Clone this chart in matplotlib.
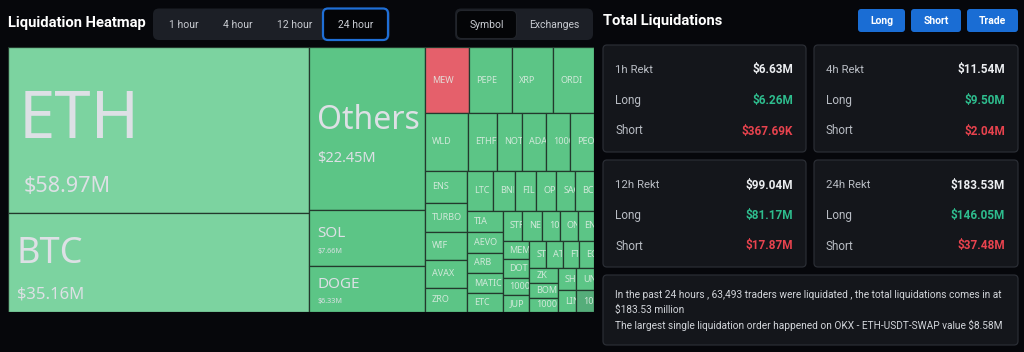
import matplotlib
matplotlib.use("Agg")
import matplotlib.pyplot as plt
from matplotlib.patches import Rectangle, FancyBboxPatch
from matplotlib.transforms import Bbox, TransformedBbox

# ---- data ----
symbols = ["ETH", "BTC", "Others", "SOL", "DOGE",
           "MEW", "PEPE", "XRP", "ORDI",
           "WLD", "ETHFI", "NOT", "ADA", "1000BONK", "PEOPLE",
           "ENS", "TURBO", "WIF", "AVAX", "ZRO",
           "LTC", "BNB", "FIL", "OP", "SAGA", "BCH",
           "TIA", "AEVO", "ARB", "MATIC", "ETC",
           "STRK", "NEAR", "1000SATS", "ONDO", "ENA",
           "MEME", "DOT", "1000FLOKI", "JUP",
           "STX", "ATOM", "FTM", "EGLD",
           "ZK", "BOME", "1000LUNC",
           "SHIB1000", "UNI", "LINK", "1000RATS"]
liq_m = [58.97, 35.16, 22.45, 7.66, 6.33,
         3.42, 3.40, 3.22, 3.17,
         2.96, 2.00, 1.69, 1.65, 1.64, 1.62,
         1.59, 1.44, 1.42, 1.38, 1.22,
         1.21, 1.04, 1.00, 0.95, 0.90, 0.88,
         0.88, 0.87, 0.86, 0.85, 0.78,
         0.70, 0.68, 0.64, 0.62, 0.58,
         0.60, 0.58, 0.56, 0.53,
         0.55, 0.53, 0.52, 0.50,
         0.50, 0.49, 0.48,
         0.48, 0.47, 0.47, 0.46]
short_heavy = ["MEW"]
hovered = ["1000RATS"]

periods = ["1h", "4h", "12h", "24h"]
rekt_total = [6.63, 11.54, 99.04, 183.53]
rekt_long = [6.26, 9.50, 81.17, 146.05]
rekt_short = [0.36769, 2.04, 17.87, 37.48]

time_tabs = ["1 hour", "4 hour", "12 hour", "24 hour"]
group_tabs = ["Symbol", "Exchanges"]
buttons = ["Long", "Short", "Trade"]

summary = ["In the past 24 hours , 63,493 traders were liquidated , the total liquidations comes in at",
           "$183.53 million",
           "The largest single liquidation order happened on OKX - ETH-USDT-SWAP value $8.58M"]


def money(v):
    if v < 1:
        return "${:.2f}K".format(v * 1000)
    return "${:.2f}M".format(v)


PHI = (1 + 5 ** 0.5) / 2


def squarify(values, x0, y0, x1, y1, ratio=PHI):
    # same row rule as d3.treemapSquarify, y grows downwards
    rects = []
    total = float(sum(values))
    i0, n = 0, len(values)
    while i0 < n:
        dx, dy = x1 - x0, y1 - y0
        s = values[i0]
        i1 = i0 + 1
        vmin = vmax = s
        alpha = max(dy / dx, dx / dy) / (total * ratio)
        beta = s * s * alpha
        best = max(vmax / beta, beta / vmin)
        while i1 < n:
            v = values[i1]
            s2 = s + v
            beta = s2 * s2 * alpha
            r = max(max(vmax, v) / beta, beta / min(vmin, v))
            if r > best:
                break
            s, vmin, vmax, best = s2, min(vmin, v), max(vmax, v), r
            i1 += 1
        row = values[i0:i1]
        if dx < dy:
            h = dy * s / total
            x = x0
            for v in row:
                w = dx * v / s
                rects.append((x, y0, w, h))
                x += w
            y0 += h
        else:
            w = dx * s / total
            y = y0
            for v in row:
                hh = dy * v / s
                rects.append((x0, y, w, hh))
                y += hh
            x0 += w
        total -= s
        i0 = i1
    return rects


BG = "#06070b"
CARD = "#14161b"
EDGE = "#2a2d34"
BLUE = "#1a6dd4"

plt.rcParams["font.family"] = ["Roboto", "DejaVu Sans"]

fig = plt.figure(figsize=(10.24, 3.52), dpi=100, facecolor=BG)
ui = fig.add_axes([0, 0, 1, 1])
ui.set_xlim(0, 1024)
ui.set_ylim(352, 0)
ui.axis("off")


def box(x, y, w, h, fc, ec="none", lw=1.0, r=4):
    ui.add_patch(FancyBboxPatch((x, y), w, h, boxstyle="round,pad=0,rounding_size=%g" % r,
                                fc=fc, ec=ec, lw=lw))


# header left
ui.text(8, 22.5, "Liquidation Heatmap", color="white", fontsize=10.6, fontweight="bold", va="center")
box(153, 8.5, 237, 31.5, "#1c1f26", r=6)
box(323, 8.5, 65, 31.5, "#040507", ec="#1f6fd6", lw=1.6, r=5)
for lab, cx in zip(time_tabs, [184, 238, 295, 356]):
    ui.text(cx, 24.5, lab, color="#c9ccd2", fontsize=7.5, ha="center", va="center")
box(455, 8.5, 138, 31.5, "#1c1f26", r=6)
box(456.5, 10.5, 60, 28, "#040507", ec="#22252b", lw=0.8, r=5)
for lab, cx in zip(group_tabs, [487, 554]):
    ui.text(cx, 24.5, lab, color="#c9ccd2", fontsize=7.5, ha="center", va="center")

# header right
ui.text(603, 21, "Total Liquidations", color="white", fontsize=10.6, fontweight="bold", va="center")
for lab, (bx, bw) in zip(buttons, [(858, 47), (911, 50), (967, 51)]):
    box(bx, 9, bw, 23, BLUE, r=3)
    ui.text(bx + bw / 2, 20.5, lab, color="white", fontsize=7.5, fontweight="bold",
            ha="center", va="center")

# rekt cards
card_pos = [(603, 45, 203), (814, 45, 204), (603, 160, 203), (814, 160, 204)]
for (cx, cy, cw), p, t, lg, sh in zip(card_pos, periods, rekt_total, rekt_long, rekt_short):
    box(cx, cy, cw, 107, CARD, ec=EDGE, lw=0.9, r=4)
    rows = [(p + " Rekt", money(t), "#eceef1"),
            ("Long", money(lg), "#2ebd8e"),
            ("Short", money(sh), "#e8434e")]
    for k, (lab, val, col) in enumerate(rows):
        yy = cy + 25 + k * 30.5
        ui.text(cx + 12, yy, lab, color="#b9bdc4", fontsize=8.5 if k else 8.2, va="center")
        ui.text(cx + cw - 13, yy, val, color=col, fontsize=8.5, fontweight="bold",
                ha="right", va="center")

box(603, 275, 415, 70, CARD, ec=EDGE, lw=0.9, r=4)
for k, line in enumerate(summary):
    ui.text(615, 295 + k * 15, line, color="#d2d5da", fontsize=7.3, va="center")

# treemap (axes y grows upwards, layout computed top-down then flipped)
TX0, TY0, TX1, TY1 = 8, 47, 594, 312
W, H = TX1 - TX0, TY1 - TY0
tm = fig.add_axes([TX0 / 1024, 1 - TY1 / 352, W / 1024, H / 352])
tm.set_xlim(0, W)
tm.set_ylim(0, H)
tm.axis("off")

rects = squarify(liq_m, 0, 0, W, H)

big = {  # name: (name size, value size, name dx, name baseline, value dx, value baseline)
    "ETH": (47, 15.5, 11, 91, 16, 145),
    "BTC": (26, 12, 8, 50, 9, 85),
    "Others": (23, 10.5, 8, 82, 9, 115),
    "SOL": (11, 5.2, 9, 27, 9, 43),
    "DOGE": (11, 5.2, 9, 22, 9, 37),
}

for name, val, (x, y, w, h) in zip(symbols, liq_m, rects):
    if name in short_heavy:
        fc = "#e5606b"
    elif name in hovered:
        fc = "#55ad7a"
    elif val > 30:
        fc = "#7cd3a0"
    else:
        fc = "#5cc586"
    yb = H - y - h
    tm.add_patch(Rectangle((x, yb), w, h, fc=fc, ec="#23392d", lw=0.9))
    clip = TransformedBbox(Bbox.from_bounds(x + 0.5, yb + 0.5, w - 1, h - 1), tm.transData)
    if name in big:
        ns, vs, ndx, nby, vdx, vby = big[name]
        texts = [tm.text(x + ndx, H - y - nby, name, fontsize=ns, color="#dde0e5",
                         family="Noto Sans", va="baseline"),
                 tm.text(x + vdx, H - y - vby, money(val), fontsize=vs, color="#dde0e5",
                         family="Noto Sans", va="baseline")]
    else:
        texts = [tm.text(x + 7, H - y - h / 2, name, fontsize=6.5, color="#e4efe8", alpha=0.85,
                         family="Noto Sans", va="center")]
    for t in texts:
        t.set_clip_box(clip)
        t.set_clip_on(True)

fig.savefig("out.png", dpi=100, facecolor=BG)
